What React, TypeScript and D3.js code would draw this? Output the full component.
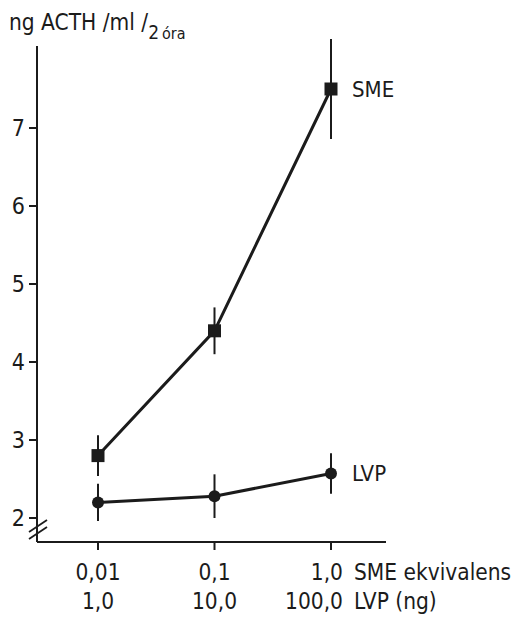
import { useEffect, useRef } from "react";
import * as d3 from "d3";

// doses (log scale) and the two label rows under the x axis
const doses = [0.01, 0.1, 1.0];
const smeDoseLabels = ["0,01", "0,1", "1,0"];
const lvpDoseLabels = ["1,0", "10,0", "100,0"];

// ng ACTH / ml / 2 óra, mean and error
const smeValues = [2.8, 4.4, 7.5];
const smeErrors = [0.26, 0.3, 0.64];
const lvpValues = [2.2, 2.28, 2.57];
const lvpErrors = [0.24, 0.28, 0.26];

const yTicks = [2, 3, 4, 5, 6, 7];

const FONT = "'DejaVu Sans Condensed', 'Liberation Sans Narrow', 'DejaVu Sans', sans-serif";
const INK = "#1b1b1b";

const App = () => {
  const svgRef = useRef<SVGSVGElement>(null);

  useEffect(() => {
    const width = 516;
    const height = 617;

    d3.select(svgRef.current).selectAll("*").remove();

    const svg = d3
      .select(svgRef.current)
      .attr("width", width)
      .attr("height", height)
      .style("font-family", FONT);

    svg.append("rect").attr("width", width).attr("height", height).attr("fill", "#fff");

    // scales
    const x = d3.scaleLog().domain([0.01, 1]).range([98, 331]);
    const y = d3.scaleLinear().domain([2, 7]).range([518, 128]);

    const axisX = 37;
    const axisY = 542;

    // y axis line
    svg
      .append("line")
      .attr("x1", axisX)
      .attr("x2", axisX)
      .attr("y1", y(8.05))
      .attr("y2", axisY)
      .attr("stroke", INK)
      .attr("stroke-width", 2);

    // y ticks + labels
    const yt = svg.append("g");
    yt.selectAll("line")
      .data(yTicks)
      .enter()
      .append("line")
      .attr("x1", axisX - 8)
      .attr("x2", axisX)
      .attr("y1", (d) => y(d))
      .attr("y2", (d) => y(d))
      .attr("stroke", INK)
      .attr("stroke-width", 2);
    yt.selectAll("text")
      .data(yTicks)
      .enter()
      .append("text")
      .attr("x", axisX - 12)
      .attr("y", (d) => y(d))
      .attr("dy", "0.36em")
      .attr("text-anchor", "end")
      .attr("font-size", 23)
      .attr("fill", INK)
      .text((d) => d);

    // axis break marks
    const b = y(2) + 11;
    [-3, 4].forEach((o) => {
      svg
        .append("line")
        .attr("x1", axisX - 8)
        .attr("y1", b + o + 6)
        .attr("x2", axisX + 10)
        .attr("y2", b + o - 6)
        .attr("stroke", INK)
        .attr("stroke-width", 1.8);
    });

    // x axis
    svg
      .append("line")
      .attr("x1", axisX)
      .attr("x2", 386)
      .attr("y1", axisY)
      .attr("y2", axisY)
      .attr("stroke", INK)
      .attr("stroke-width", 2);

    svg
      .append("g")
      .selectAll("line")
      .data(doses)
      .enter()
      .append("line")
      .attr("x1", (d) => x(d))
      .attr("x2", (d) => x(d))
      .attr("y1", axisY)
      .attr("y2", axisY + 8)
      .attr("stroke", INK)
      .attr("stroke-width", 2);

    // x labels: last column right-aligned, the others centred
    const labelRow = (labels: string[], yPos: number, name: string) => {
      const g = svg.append("g").attr("font-size", 22.5).attr("fill", INK);
      g.selectAll("text")
        .data(doses)
        .enter()
        .append("text")
        .attr("x", (d, i) => (i === doses.length - 1 ? x(d) + 12 : x(d)))
        .attr("y", yPos)
        .attr("text-anchor", (d, i) => (i === doses.length - 1 ? "end" : "middle"))
        .text((d, i) => labels[i]);
      g.append("text")
        .attr("x", x(1) + 23)
        .attr("y", yPos)
        .text(name);
    };
    labelRow(smeDoseLabels, 580, "SME ekvivalens");
    labelRow(lvpDoseLabels, 609, "LVP (ng)");

    // title
    const title = svg
      .append("text")
      .attr("x", 9)
      .attr("y", 30)
      .attr("font-size", 22.5)
      .attr("fill", INK);
    title.append("tspan").text("ng ACTH /ml /");
    title.append("tspan").attr("font-size", 19).attr("dy", 9).text("2");
    title.append("tspan").attr("font-size", 16).attr("dx", 3).text("óra");

    const line = d3
      .line<number>()
      .x((d, i) => x(doses[i]))
      .y((d) => y(d));

    const drawSeries = (values: number[], errors: number[], shape: string, name: string) => {
      const g = svg.append("g");
      // error bars
      g.selectAll("line.err")
        .data(values)
        .enter()
        .append("line")
        .attr("class", "err")
        .attr("x1", (d, i) => x(doses[i]))
        .attr("x2", (d, i) => x(doses[i]))
        .attr("y1", (d, i) => y(d + errors[i]))
        .attr("y2", (d, i) => y(d - errors[i]))
        .attr("stroke", INK)
        .attr("stroke-width", 2);
      g.append("path")
        .datum(values)
        .attr("d", line)
        .attr("fill", "none")
        .attr("stroke", INK)
        .attr("stroke-width", 3);
      if (shape === "square") {
        g.selectAll("rect")
          .data(values)
          .enter()
          .append("rect")
          .attr("x", (d, i) => x(doses[i]) - 6.5)
          .attr("y", (d) => y(d) - 6.5)
          .attr("width", 13)
          .attr("height", 13)
          .attr("fill", INK);
      } else {
        g.selectAll("circle")
          .data(values)
          .enter()
          .append("circle")
          .attr("cx", (d, i) => x(doses[i]))
          .attr("cy", (d) => y(d))
          .attr("r", 6)
          .attr("fill", INK);
      }
      g.append("text")
        .attr("x", x(1) + 21)
        .attr("y", y(values[values.length - 1]))
        .attr("dy", "0.36em")
        .attr("font-size", 22)
        .attr("fill", INK)
        .text(name);
    };

    drawSeries(smeValues, smeErrors, "square", "SME");
    drawSeries(lvpValues, lvpErrors, "circle", "LVP");
  }, []);

  return (
    <svg
      ref={svgRef}
      style={{ position: "absolute", left: 0, top: 0, display: "block" }}
    ></svg>
  );
};

export default App;
